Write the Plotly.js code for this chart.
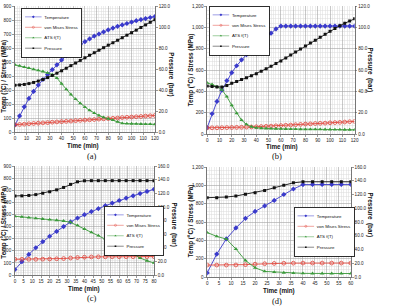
<!DOCTYPE html>
<html>
<head>
<meta charset="utf-8">
<script src="https://cdn.plot.ly/plotly-3.0.1.min.js"></script>
<style>
  html, body { margin: 0; padding: 0; background: #fff; }
  #chart { width: 404px; height: 306px; }
</style>
</head>
<body>
<div id="chart"></div>
<script>
// ---- time samples (min) ----
const timeA = [0,4,8,12,16,20,24,28,32,36,40,44,48,52,56,60,64,68,72,76,80,84,88,92,96,100,104,108,112,116,120];
const timeB = [0,4,8,12,16,20,24,28,32,36,40,44,48,52,56,60,64,68,72,76,80,84,88,92,96,100,104,108,112,116,120];
const timeC = [0,4,8,12,16,20,24,28,32,36,40,44,48,52,56,60,64,68,72,76,80];
const timeD = [0,4,8,12,16,20,24,28,32,36,40,44,48,52,56,60];

// ---- (a) ----
const tempA  = [50,115,180,240,290,335,375,410,445,480,515,545,575,600,625,645,665,685,700,715,730,742,755,765,775,785,795,803,810,818,825];
const vmA    = [52,54,56,59,61,63,65,67,70,72,74,76,78,81,83,85,87,89,92,94,96,98,100,103,105,107,109,111,114,116,118];
const atsA   = [480,472,464,456,448,440,432,423,410,385,345,305,268,235,205,178,155,135,118,105,95,85,72,62,60,59,58,57,56,56,55];
const presA  = [44.5,44.8,45.3,46.1,47.2,48.5,50,51.8,53.8,56,58.3,60.7,63.2,65.7,68.2,70.7,73.1,75.5,77.9,80.3,82.7,85,87.4,89.8,92.2,94.6,97,99.5,102,104.5,107];

// ---- (b) ----
const tempB  = [60,190,305,410,500,575,640,695,745,785,825,865,905,945,985,1012,1012,1012,1012,1012,1012,1012,1012,1012,1012,1012,1012,1012,1012,1012,1012];
const vmB    = [58,58,58,59,60,61,62,63,65,66,68,70,72,74,77,79,82,84,87,90,93,95,98,100,102,105,107,109,112,115,118];
const atsB   = [480,465,445,415,350,270,195,130,90,68,58,54,52,50,49,48,47,46,46,45,44,44,43,43,42,42,41,41,40,40,40];
const presB  = [45,44.5,44,44,45.5,47.5,49.2,51,52.8,54.7,56.6,58.8,61.1,63.5,66,68.5,71.2,74,76.8,79.6,82.4,85.2,88,90.8,93.6,96.3,99,101.6,103.8,105.9,108];

// ---- (c) ----
const tempC  = [45,110,170,225,275,320,360,400,438,470,498,524,548,572,594,615,635,654,672,690,708];
const vmC    = [130,130,130,130,131,132,134,136,140,144,147,149,150,150,151,151,151,151,152,152,152];
const atsC   = [485,480,474,468,463,458,452,446,435,410,380,352,325,298,270,240,208,172,140,118,100];
const presC  = [116,116.2,116.8,118,120,122.2,125,128.5,133,136.8,138.3,138.5,138.5,138.5,138.5,138.5,138.5,138.5,138.5,138.5,138.5];

// ---- (d) ----
const tempD  = [45,250,415,535,640,715,775,835,900,960,1008,1010,1010,1010,1010,1010];
const vmD    = [130,130,130,131,135,140,145,148,150,151,152,152,152,152,152,152];
const atsD   = [485,443,414,306,180,101,61,54,47,42,40,39,39,38,38,38];
const presD  = [115.4,115.4,116.3,117.8,120.2,122.6,126,129.8,133.6,137,138.5,138.5,138.5,138.5,138.5,138.5];

const seriesNames = ['Temperature', 'von Mises Stress', 'ATS f(T)', 'Pressure'];
const captions = ['(a)', '(b)', '(c)', '(d)'];

// ---- styling ----
const SANS = 'Liberation Sans, Arial, sans-serif';
const COL = { temp: '#3a3acb', vm: '#e0463c', ats: '#3a9a3a', pres: '#111111' };
const tickFont = { family: SANS, size: 4.6, color: '#222' };

function panelTraces(t, temp, vm, ats, pres, xa, yl, yr, leg) {
  const base = { x: t, mode: 'lines+markers', xaxis: xa, legend: leg, hoverinfo: 'skip' };
  return [
    Object.assign({}, base, { y: temp, yaxis: yl, name: seriesNames[0],
      line: { color: COL.temp, width: 0.9 }, marker: { symbol: 'diamond', size: 4, color: COL.temp } }),
    Object.assign({}, base, { y: vm, yaxis: yl, name: seriesNames[1],
      line: { color: COL.vm, width: 0.9 }, marker: { symbol: 'circle-open', size: 3.8, color: COL.vm, line: { width: 0.8 } } }),
    Object.assign({}, base, { y: ats, yaxis: yl, name: seriesNames[2],
      line: { color: COL.ats, width: 0.9 }, marker: { symbol: 'triangle-up', size: 3.8, color: COL.ats } }),
    Object.assign({}, base, { y: pres, yaxis: yr, name: seriesNames[3],
      line: { color: COL.pres, width: 0.9 }, marker: { symbol: 'square', size: 3, color: COL.pres } })
  ];
}

function xAxis(domain, anchor, range, dtick, minorDtick) {
  return {
    domain, anchor, range, dtick, tick0: 0, fixedrange: true,
    showgrid: true, gridcolor: '#a3a3a3', gridwidth: 0.6,
    minor: { dtick: minorDtick, showgrid: true, gridcolor: '#dcdcdc', gridwidth: 0.5 },
    showline: true, linecolor: '#555', linewidth: 0.8,
    ticks: 'outside', ticklen: 2, tickwidth: 0.6, tickcolor: '#555',
    tickfont: tickFont, zeroline: false
  };
}
function yLeft(domain, anchor, range, dtick, minorDtick) {
  return {
    domain, anchor, range, dtick, tick0: 0, tickformat: ',d', fixedrange: true,
    showgrid: true, gridcolor: '#a3a3a3', gridwidth: 0.6,
    minor: { dtick: minorDtick, showgrid: true, gridcolor: '#dcdcdc', gridwidth: 0.5 },
    showline: true, linecolor: '#555', linewidth: 0.8,
    ticks: 'outside', ticklen: 2, tickwidth: 0.6, tickcolor: '#555',
    tickfont: tickFont, zeroline: false
  };
}
function yRight(overlay, anchor, range, dtick) {
  return {
    overlaying: overlay, anchor, side: 'right', range, dtick, tick0: 0, tickformat: '.1f', fixedrange: true,
    showgrid: false, showline: true, linecolor: '#555', linewidth: 0.8,
    ticks: 'outside', ticklen: 2, tickwidth: 0.6, tickcolor: '#555',
    tickfont: tickFont, zeroline: false
  };
}
function legendBox(x, y) {
  return {
    x, y, xanchor: 'left', yanchor: 'top',
    bgcolor: '#ffffff', bordercolor: '#111', borderwidth: 1.6,
    font: { family: SANS, size: 8, color: '#111' },
    tracegroupgap: 0, itemwidth: 30, itemclick: false, itemdoubleclick: false
  };
}

const W = 404, H = 306;
const px = v => v / W, py = v => 1 - v / H;

const data = [].concat(
  panelTraces(timeA, tempA, vmA, atsA, presA, 'x',  'y',  'y2', 'legend'),
  panelTraces(timeB, tempB, vmB, atsB, presB, 'x2', 'y3', 'y4', 'legend2'),
  panelTraces(timeC, tempC, vmC, atsC, presC, 'x3', 'y5', 'y6', 'legend3'),
  panelTraces(timeD, tempD, vmD, atsD, presD, 'x4', 'y7', 'y8', 'legend4')
);

function ann(text, x, y, opts) {
  return Object.assign({ text, x: px(x), y: py(y), xref: 'paper', yref: 'paper',
    xanchor: 'center', yanchor: 'middle', showarrow: false }, opts);
}
const titleFont = { family: SANS, size: 6.3, color: '#111', weight: 'bold' };
const capFont = { family: 'Liberation Serif, Times New Roman, serif', size: 8.5, color: '#111' };
const leftTitle = 'Temp (°C) / Stress (MPa)';
const rightTitle = 'Pressure  (bar)';
const timeTitle = 'Time (min)';

const annotations = [
  ann(leftTitle, 4, 76, { textangle: -90, font: titleFont }),
  ann(rightTitle, 183, 74, { textangle: 90, font: titleFont }),
  ann(timeTitle, 89, 145.5, { font: titleFont }),
  ann(captions[0], 99, 155.5, { font: capFont }),

  ann(leftTitle, 205, 70, { textangle: -90, font: titleFont }),
  ann(rightTitle, 397, 70, { textangle: 90, font: titleFont }),
  ann(timeTitle, 302, 147, { font: titleFont }),
  ann(captions[1], 297, 156, { font: capFont }),

  ann(leftTitle, 4, 222, { textangle: -90, font: titleFont }),
  ann(rightTitle, 186, 224, { textangle: 90, font: titleFont }),
  ann(timeTitle, 90, 289, { font: titleFont }),
  ann(captions[2], 99, 298, { font: capFont }),

  ann(leftTitle, 205, 221, { textangle: -90, font: titleFont }),
  ann(rightTitle, 397, 215, { textangle: 90, font: titleFont }),
  ann(timeTitle, 299, 291, { font: titleFont }),
  ann(captions[3], 297, 301, { font: capFont })
];

const layout = {
  width: W, height: H,
  margin: { l: 0, r: 0, t: 0, b: 0 },
  paper_bgcolor: '#ffffff', plot_bgcolor: '#ffffff',
  showlegend: true,
  font: { family: SANS, color: '#111' },

  xaxis:  xAxis([px(16),  px(166)], 'y',  [0, 120], 10, 2),
  yaxis:  yLeft([py(132), py(6)],   'x',  [0, 900], 100, 20),
  yaxis2: yRight('y', 'x', [0, 120], 20),

  xaxis2: xAxis([px(222), px(380)], 'y3', [0, 120], 10, 2),
  yaxis3: yLeft([py(134), py(6)],   'x2', [0, 1200], 200, 40),
  yaxis4: yRight('y3', 'x2', [0, 120], 20),

  xaxis3: xAxis([px(16),  px(165)], 'y5', [0, 80], 5, 1),
  yaxis5: yLeft([py(275), py(166)], 'x3', [0, 900], 100, 20),
  yaxis6: yRight('y5', 'x3', [0, 160], 20),

  xaxis4: xAxis([px(222), px(376)], 'y7', [0, 60], 5, 1),
  yaxis7: yLeft([py(277), py(167)], 'x4', [0, 1200], 200, 40),
  yaxis8: yRight('y7', 'x4', [0, 160], 20),

  legend:  legendBox(px(23),  py(8)),
  legend2: legendBox(px(224), py(6)),
  legend3: legendBox(px(111), py(206)),
  legend4: legendBox(px(315), py(207)),

  annotations
};

// Legends are laid out at a readable size and then scaled down to fit the small panels.
const LEGEND_SCALE = 0.55;
function shrinkLegends() {
  document.querySelectorAll('#chart .infolayer > g').forEach(g => {
    const cls = g.getAttribute('class') || '';
    if (/^legend\d*$/.test(cls)) {
      const t = (g.getAttribute('transform') || '').replace(/\s*scale\([^)]*\)/, '');
      g.setAttribute('transform', t + ' scale(' + LEGEND_SCALE + ')');
    }
  });
}

const gd = document.getElementById('chart');
Plotly.newPlot(gd, data, layout, { staticPlot: true, displayModeBar: false }).then(() => {
  shrinkLegends();
  gd.on && gd.on('plotly_afterplot', shrinkLegends);
});
</script>
</body>
</html>
